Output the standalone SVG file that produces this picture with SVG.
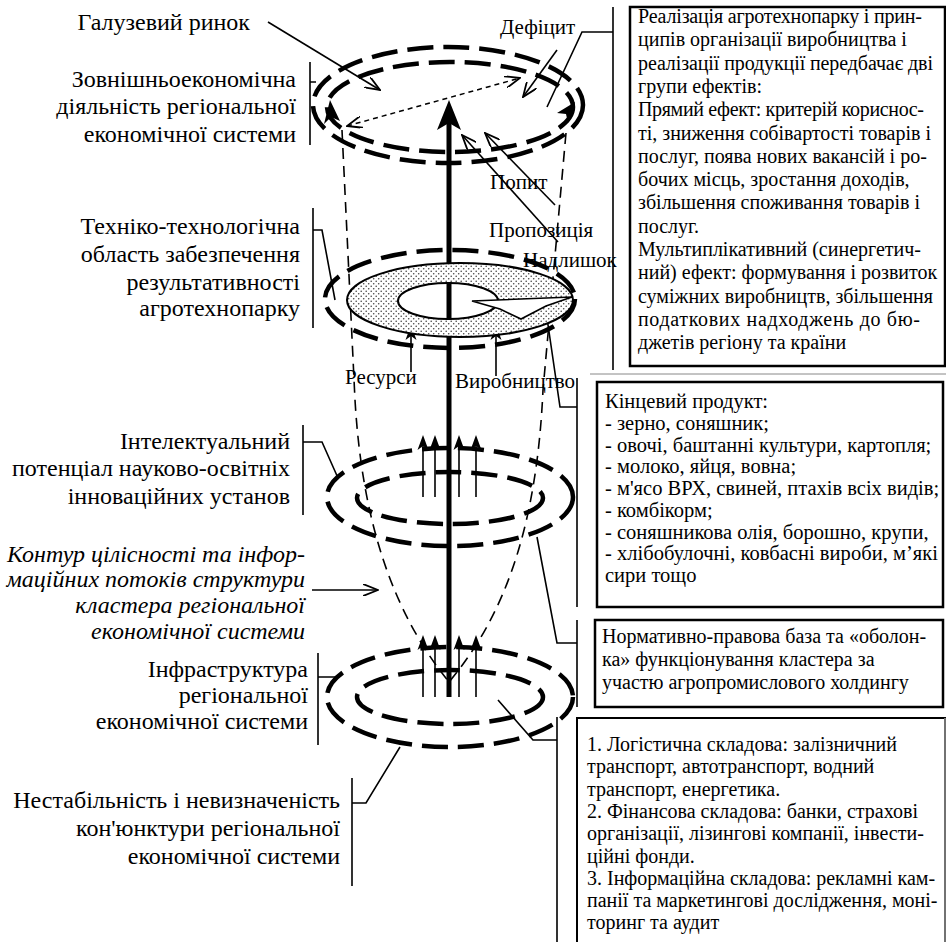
<svg xmlns="http://www.w3.org/2000/svg" width="946" height="942" viewBox="0 0 946 942">
<style>
text{font-family:"Liberation Serif","Times New Roman",serif;fill:#000}
.lbl{font-size:24px;text-anchor:end}
.it{font-style:italic}
.mid{font-size:21px}
.box{font-size:20px}
.box2{font-size:20.5px}
.box4{font-size:20px}
.frame{fill:#fff;stroke:#000;stroke-width:2.5}
.thin{fill:none;stroke:#000;stroke-width:1.6}
.thick{fill:none;stroke:#000;stroke-width:4.5;stroke-dasharray:26 10}
.contour{fill:none;stroke:#000;stroke-width:1.6;stroke-dasharray:11 7}
.arr{fill:none;stroke:#000;stroke-width:1.6;marker-end:url(#open)}
</style>
<defs>
<marker id="open" viewBox="0 0 16 12" refX="15" refY="6" markerWidth="16" markerHeight="12" orient="auto" markerUnits="userSpaceOnUse">
<path d="M0,0 L15,6 L0,12" fill="none" stroke="#000" stroke-width="1.8"/>
</marker>
<marker id="openS" viewBox="0 0 16 12" refX="15" refY="6" markerWidth="16" markerHeight="12" orient="auto-start-reverse" markerUnits="userSpaceOnUse">
<path d="M0,0 L15,6 L0,12" fill="none" stroke="#000" stroke-width="1.8"/>
</marker>
<pattern id="dots" width="5" height="5" patternUnits="userSpaceOnUse">
<rect width="5" height="5" fill="#fff"/>
<circle cx="1.2" cy="1.2" r="0.8" fill="#444"/>
<circle cx="3.7" cy="3.7" r="0.8" fill="#444"/>
</pattern>
<path id="uparrow" d="M0,0 L5.5,15 L0,11 L-5.5,15 Z" fill="#000"/>
</defs>

<g id="connectors">
<path class="contour" d="M342,130 L355,400 C362,520 392,612 449,682"/>
<path class="contour" d="M566,133 L543,390 C537,520 508,612 449,682"/>
<line x1="449" y1="120" x2="449" y2="697" stroke="#000" stroke-width="5"/>
<polygon points="449,100 461,130 449,123 437,130" fill="#000"/>
<line x1="347" y1="126" x2="520" y2="78" stroke="#000" stroke-width="1.5" stroke-dasharray="5 4" marker-start="url(#openS)" marker-end="url(#openS)"/>
<line class="arr" x1="268" y1="22" x2="380" y2="90"/>
<line class="arr" x1="557" y1="50" x2="523" y2="97"/>
<line class="arr" x1="555" y1="205" x2="485" y2="133"/>
<line class="arr" x1="558" y1="242" x2="462" y2="135"/>
<line x1="411" y1="372" x2="411" y2="335" stroke="#000" stroke-width="1.6"/>
<use href="#uparrow" x="411" y="325"/>
<line x1="496" y1="376" x2="496" y2="335" stroke="#000" stroke-width="1.6"/>
<use href="#uparrow" x="496" y="325"/>
<line class="arr" x1="312" y1="590" x2="378" y2="590"/>
<path class="thin" d="M310,62 V145 M310,82 H316"/>
<path class="thin" d="M313,208 V328 M313,230 H322 L335,300"/>
<path class="thin" d="M303,425 V515 M303,442 H322 L338,478"/>
<path class="thin" d="M318,653 V745 M318,677 H337"/>
<path class="thin" d="M352,778 V886 M352,803 H366 L400,747"/>
<path class="thin" d="M613,7 V370 M613,32 H582 L547,107"/>
<path class="thin" d="M577,378 V607 M577,407 H560 L547,318"/>
<path class="thin" d="M577,620 V707 M577,643 H557 L537,537"/>
<path class="thin" d="M557,717 V942 M557,740 H533 L498,700"/>
<line x1="590" y1="374" x2="946" y2="374" stroke="#888" stroke-width="1"/>
</g>

<g id="top-ellipses">
<ellipse class="thick" cx="448" cy="105" rx="135" ry="58"/>
<ellipse class="thick" cx="450" cy="107" rx="123" ry="45"/>
<polygon points="330,100 340,121 331,117 324,124" fill="#000"/>
<polygon points="575,102 568,123 566,114 557,113" fill="#000"/>
</g>

<g id="techno-area">
<ellipse class="thick" cx="450" cy="299" rx="125" ry="49"/>
<ellipse cx="460" cy="300" rx="113" ry="37" fill="url(#dots)" stroke="#000" stroke-width="2"/>
<ellipse cx="448" cy="301" rx="50" ry="18" fill="#fff" stroke="#000" stroke-width="2"/>
<line x1="449" y1="282" x2="449" y2="320" stroke="#000" stroke-width="5"/>
<polygon points="472,301 572,297 546,306 521,319 500,309" fill="#fff" stroke="#000" stroke-width="1.6"/>
</g>

<g id="intellect-ellipses">
<ellipse class="thick" cx="450" cy="497" rx="123" ry="49"/>
<ellipse class="thick" cx="450" cy="498" rx="93" ry="26"/>
<g stroke="#000" stroke-width="1.6">
<line x1="423" y1="445" x2="423" y2="497"/><line x1="435" y1="445" x2="435" y2="497"/>
<line x1="459" y1="445" x2="459" y2="497"/><line x1="476" y1="445" x2="476" y2="497"/>
</g>
<use href="#uparrow" x="423" y="435"/><use href="#uparrow" x="435" y="435"/>
<use href="#uparrow" x="459" y="435"/><use href="#uparrow" x="476" y="435"/>
</g>

<g id="infra-ellipses">
<ellipse class="thick" cx="450" cy="697" rx="123" ry="50"/>
<ellipse class="thick" cx="450" cy="697" rx="93" ry="27"/>
<g stroke="#000" stroke-width="1.6">
<line x1="423" y1="645" x2="423" y2="697"/><line x1="435" y1="645" x2="435" y2="697"/>
<line x1="459" y1="645" x2="459" y2="697"/><line x1="476" y1="645" x2="476" y2="697"/>
</g>
<use href="#uparrow" x="423" y="635"/><use href="#uparrow" x="435" y="635"/>
<use href="#uparrow" x="459" y="635"/><use href="#uparrow" x="476" y="635"/>
</g>

<g id="label-market"><text class="lbl" x="250" y="30">Галузевий ринок</text></g>
<g id="label-foreign">
<text class="lbl" x="296" y="87">Зовнішньоекономічна</text>
<text class="lbl" x="296" y="114">діяльність регіональної</text>
<text class="lbl" x="296" y="142">економічної системи</text>
</g>
<g id="label-techno">
<text class="lbl" x="300" y="234">Техніко-технологічна</text>
<text class="lbl" x="300" y="262">область забезпечення</text>
<text class="lbl" x="300" y="290">результативності</text>
<text class="lbl" x="300" y="316">агротехнопарку</text>
</g>
<g id="label-intellect">
<text class="lbl" x="290" y="449">Інтелектуальний</text>
<text class="lbl" x="290" y="476">потенціал науково-освітніх</text>
<text class="lbl" x="290" y="504">інноваційних установ</text>
</g>
<g id="label-contour">
<text class="lbl it" x="305" y="562">Контур цілісності та інфор-</text>
<text class="lbl it" x="305" y="587">маційних потоків структури</text>
<text class="lbl it" x="305" y="613">кластера регіональної</text>
<text class="lbl it" x="305" y="639">економічної системи</text>
</g>
<g id="label-infra">
<text class="lbl" x="308" y="677">Інфраструктура</text>
<text class="lbl" x="308" y="703">регіональної</text>
<text class="lbl" x="308" y="729">економічної системи</text>
</g>
<g id="label-instab">
<text class="lbl" x="340" y="808">Нестабільність і невизначеність</text>
<text class="lbl" x="340" y="836">кон'юнктури регіональної</text>
<text class="lbl" x="340" y="864">економічної системи</text>
</g>

<g id="label-deficit"><text class="mid" x="500" y="34">Дефіцит</text></g>
<g id="label-demand"><text class="mid" x="490" y="189">Попит</text></g>
<g id="label-supply"><text class="mid" x="489" y="237">Пропозиція</text></g>
<g id="label-surplus"><text class="mid" x="523" y="267">Надлишок</text></g>
<g id="label-resources"><text class="mid" x="345" y="384">Ресурси</text></g>
<g id="label-production"><text class="mid" x="455" y="388">Виробництво</text></g>

<g id="box-effects">
<rect class="frame" x="630" y="7" width="315" height="359"/>
<text class="box" x="638" y="23" textLength="284" lengthAdjust="spacing">Реалізація агротехнопарку і прин-</text>
<text class="box" x="638" y="46.3">ципів організації виробництва і</text>
<text class="box" x="638" y="69.6" textLength="295" lengthAdjust="spacing">реалізації продукції передбачає дві</text>
<text class="box" x="638" y="92.9">групи ефектів:</text>
<text class="box" x="638" y="116.2" textLength="286" lengthAdjust="spacing">Прямий ефект: критерій кориснос-</text>
<text class="box" x="638" y="139.5" textLength="293" lengthAdjust="spacing">ті, зниження собівартості товарів і</text>
<text class="box" x="638" y="162.8">послуг, поява нових вакансій і ро-</text>
<text class="box" x="638" y="186.1">бочих місць, зростання доходів,</text>
<text class="box" x="638" y="209.4">збільшення споживання товарів і</text>
<text class="box" x="638" y="232.7">послуг.</text>
<text class="box" x="638" y="256">Мультиплікативний (синергетич-</text>
<text class="box" x="638" y="279.3">ний) ефект: формування і розвиток</text>
<text class="box" x="638" y="302.6">суміжних виробництв, збільшення</text>
<text class="box" x="638" y="325.9" textLength="282" lengthAdjust="spacing">податкових надходжень до бю-</text>
<text class="box" x="638" y="349.2">джетів регіону та країни</text>
</g>

<g id="box-product">
<rect class="frame" x="597" y="382" width="346" height="225"/>
<text class="box2" x="605" y="408">Кінцевий продукт:</text>
<text class="box2" x="605" y="429.75">- зерно, соняшник;</text>
<text class="box2" x="605" y="451.5">- овочі, баштанні культури, картопля;</text>
<text class="box2" x="605" y="473.25">- молоко, яйця, вовна;</text>
<text class="box2" x="605" y="495">- м'ясо ВРХ, свиней, птахів всіх видів;</text>
<text class="box2" x="605" y="516.75">- комбікорм;</text>
<text class="box2" x="605" y="538.5">- соняшникова олія, борошно, крупи,</text>
<text class="box2" x="605" y="560.25" textLength="333" lengthAdjust="spacing">- хлібобулочні, ковбасні вироби, м’які</text>
<text class="box2" x="605" y="582">сири тощо</text>
</g>

<g id="box-legal">
<rect class="frame" x="595" y="620" width="348" height="87"/>
<text class="box" x="602" y="643">Нормативно-правова база та «оболон-</text>
<text class="box" x="602" y="666">ка» функціонування кластера за</text>
<text class="box" x="602" y="689">участю агропромислового холдингу</text>
</g>

<g id="box-infra">
<path d="M577,944 V718 H945 V944" fill="#fff" stroke="#000" stroke-width="2"/>
<line x1="945" y1="718" x2="945" y2="944" stroke="#999" stroke-width="1.5"/>
<text class="box4" x="587" y="751">1. Логістична складова: залізничний</text>
<text class="box4" x="587" y="773.3">транспорт, автотранспорт, водний</text>
<text class="box4" x="587" y="795.6">транспорт, енергетика.</text>
<text class="box4" x="587" y="817.9">2. Фінансова складова: банки, страхові</text>
<text class="box4" x="587" y="840.2">організації, лізингові компанії, інвести-</text>
<text class="box4" x="587" y="862.5">ційні фонди.</text>
<text class="box4" x="587" y="884.8">3. Інформаційна складова: рекламні кам-</text>
<text class="box4" x="587" y="907.1">панії та маркетингові дослідження, моні-</text>
<text class="box4" x="587" y="929.4">торинг та аудит</text>
</g>
</svg>
